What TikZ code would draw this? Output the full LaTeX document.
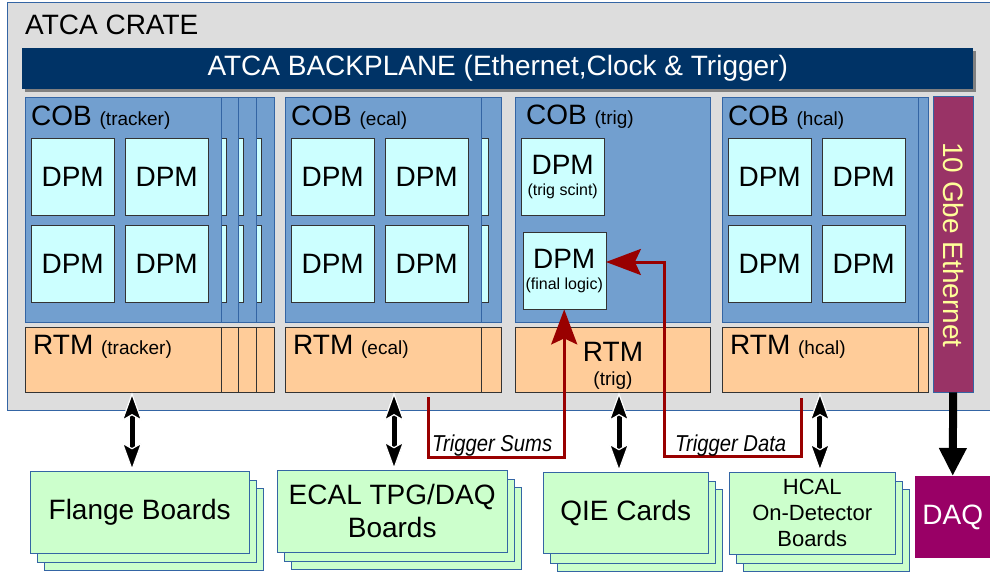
\documentclass[tikz,border=0pt]{standalone}
\usepackage{fontspec}
\setmainfont{Liberation Sans}
\newfontfamily\condfont[FakeStretch=0.88]{Liberation Sans}
\usetikzlibrary{arrows.meta}
\definecolor{crategray}{HTML}{DDDDDD}
\definecolor{edgeblue}{HTML}{3465A4}
\definecolor{navy}{HTML}{003366}
\definecolor{cobblue}{HTML}{729FCF}
\definecolor{dpmcyan}{HTML}{CCFFFF}
\definecolor{rtmorange}{HTML}{FFCC99}
\definecolor{boardgreen}{HTML}{CCFFCC}
\definecolor{ethpurple}{HTML}{993366}
\definecolor{ethtext}{HTML}{FFFF99}
\definecolor{daqpurple}{HTML}{990066}
\definecolor{trigred}{HTML}{990000}
\newcommand{\fs}[2]{\fontsize{#1}{#2}\selectfont}

\begin{document}
\begin{tikzpicture}[x=1pt, y=-1pt,
  card/.style = {draw=edgeblue, fill=cobblue, anchor=north west, inner sep=0pt, minimum width=195.5pt, minimum height=225pt},
  dpm/.style = {draw=black!80, fill=dpmcyan, anchor=north west, inner sep=0pt, minimum width=83pt, minimum height=77pt, align=center, font=\fs{28}{28}},
  rtm/.style = {draw=black!80, fill=rtmorange, anchor=north west, inner sep=0pt, minimum width=195.5pt, minimum height=65pt},
  board/.style = {draw=edgeblue, fill=boardgreen, anchor=north west, inner sep=0pt, align=center},
  lbl/.style = {anchor=base west, inner sep=0pt, font=\fs{28}{28}},
  dbl/.style = {line width=5pt, {Stealth[length=29pt, width=21pt, inset=6pt, line width=1.2pt, color=white, fill=black]}-{Stealth[length=29pt, width=21pt, inset=6pt, line width=1.2pt, color=white, fill=black]}},
  trig/.style = {draw=trigred, line width=3pt, -{Stealth[length=35pt, width=26pt, inset=6pt]}},
  triglabel/.style = {anchor=base west, inner sep=0pt, font=\condfont\itshape\fs{23}{23}}]
\useasboundingbox (0,0) rectangle (990,572);

% crate and backplane
\node[draw=edgeblue, fill=crategray, anchor=north west, inner sep=0pt, minimum width=990pt, minimum height=408pt] (crate) at (7,2) {};
\node[lbl] (cratelabel) at (25,35) {ATCA CRATE};
\fill[gray] (25,51) rectangle (976,92);
\node[fill=navy, anchor=north west, inner sep=0pt, minimum width=951pt, minimum height=41pt, text=white, font=\fs{28}{28}] (backplane) at (22,48) {ATCA BACKPLANE (Ethernet,Clock \& Trigger)};

% cards behind the front ones
\foreach \x [count=\k] in {78,60.3,42.7,305,732} {
  \node[card] (backcob\k) at (\x,97) {};
  \foreach \px/\py [count=\j] in {6/138,100/138,6/225,100/225}
    \node[dpm] (backdpm\k-\j) at (\x+\px,\py) {};
  \node[rtm] (backrtm\k) at (\x,327) {};
}

% front cards
\foreach \slot/\x/\txt in {trk/25/tracker, ecal/285/ecal, hcal/722/hcal} {
  \node[card] (cob\slot) at (\x,97) {};
  \node[lbl] (cob\slot-label) at (\x+6,126) {COB {\fs{19}{19}(\txt)}};
  \foreach \px/\py [count=\j] in {6/138,100/138,6/225,100/225}
    \node[dpm] (\slot\j) at (\x+\px,\py) {DPM};
  \node[rtm] (rtm\slot) at (\x,327) {};
  \node[lbl] (rtm\slot-label) at (\x+8,354) {RTM {\fs{19}{19}(\txt)}};
}

% trigger slot
\node[card] (cobtrig) at (514.5,97) {};
\node[lbl] (cobtrig-label) at (526,125) {COB {\fs{19}{19}(trig)}};
\node[dpm] (scint) at (521,138) {DPM\\[-7pt]{\fs{16}{16}(trig scint)}};
\node[dpm] (fin) at (522.5,232) {DPM\\[-7pt]{\fs{16}{16}(final logic)}};
\node[rtm] (rtmtrig) at (514.5,327) {};
\node[anchor=base, inner sep=0pt, font=\fs{28}{28}] (rtmtrig-label) at (613,361) {RTM};
\node[anchor=base, inner sep=0pt, font=\fs{19}{19}] (rtmtrig-sub) at (613,385) {(trig)};

% ethernet and daq
\node[draw=edgeblue, fill=ethpurple, anchor=north west, inner sep=0pt, minimum width=40pt, minimum height=296pt] (eth) at (933,96) {};
\node[rotate=-90, text=ethtext, font=\fs{28}{28}] (ethlabel) at (953,245) {10 Gbe Ethernet};
\node[fill=daqpurple, anchor=north west, inner sep=0pt, minimum width=75pt, minimum height=82pt, text=white, font=\fs{28}{28}] (daq) at (915,476) {DAQ};
\draw[line width=8pt, -{Triangle[length=28pt, width=26pt]}] (eth.south) -- (daq.north);

% boards, each a stack of three
\foreach \x/\y/\w [count=\k] in {30/471/219, 277/470/230, 543/472/165, 729/472/166}
  \foreach \d in {2,1}
    \node[board, minimum width=\w, minimum height=82pt] (backboard\k-\d) at (\x+7*\d,\y+8.5*\d) {};
\node[board, minimum width=219pt, minimum height=82pt, font=\fs{28}{33}] (flange) at (30,471) {Flange Boards};
\node[board, minimum width=230pt, minimum height=82pt, font=\fs{28}{33}] (ecalboard) at (277,470) {ECAL TPG/DAQ\\Boards};
\node[board, minimum width=165pt, minimum height=81pt, font=\fs{28}{33}] (qie) at (543,472) {QIE Cards};
\node[board, minimum width=166pt, minimum height=82pt, font=\fs{22}{26}] (hcalboard) at (729,472) {HCAL\\On-Detector\\Boards};

% links between rtm and boards
\coordinate (trkarrow) at (132,0);
\coordinate (ecalarrow) at (394,0);
\coordinate (qiearrow) at (619,0);
\draw[dbl] (rtmtrk.south -| trkarrow) -- (flange.north -| trkarrow);
\draw[dbl] (rtmecal.south -| ecalarrow) -- (ecalboard.north -| ecalarrow);
\draw[dbl] (rtmtrig.south -| qiearrow) -- (qie.north -| qiearrow);
\draw[dbl] (rtmhcal.south) -- (rtmhcal.south |- hcalboard.north);

% trigger paths
\coordinate (sumsstart) at (428,397);
\coordinate (datastart) at (801,398);
\coordinate (datacorner) at (664,262);
\draw[trig] (sumsstart) -- ++(0,60) -| (fin.south);
\draw[trig] (datastart) -- ++(0,58) -| (datacorner) -- (datacorner -| fin.east);
\node[triglabel] (sumslabel) at (432,451) {Trigger Sums};
\node[triglabel] (datalabel) at (675,451) {Trigger Data};

\end{tikzpicture}
\end{document}
